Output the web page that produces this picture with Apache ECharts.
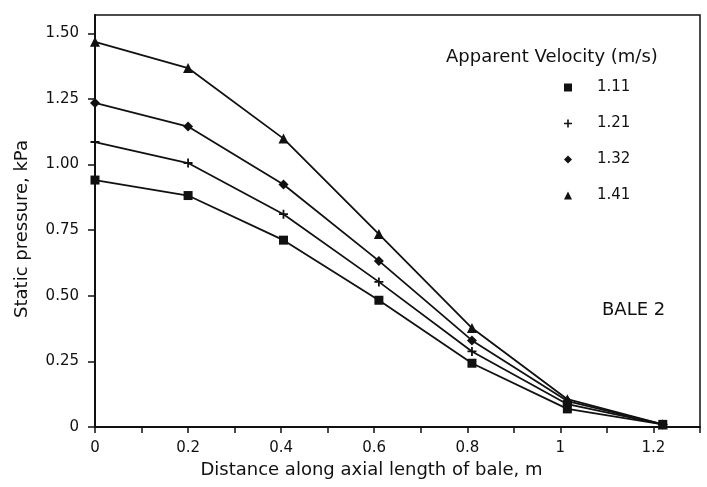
<!DOCTYPE html>
<html>
<head>
<meta charset="utf-8">
<script src="https://cdn.jsdelivr.net/npm/echarts@6/dist/echarts.min.js"></script>
<style>
  html, body { margin: 0; padding: 0; background: #fff; }
  #chart { width: 707px; height: 487px; }
</style>
</head>
<body>
<div id="chart"></div>
<script>
const distance = [0, 0.2, 0.405, 0.61, 0.81, 1.015, 1.22]
const v111 = [0.941, 0.882, 0.712, 0.483, 0.243, 0.069, 0.01]
const v121 = [1.086, 1.006, 0.811, 0.553, 0.288, 0.087, 0.01]
const v132 = [1.235, 1.145, 0.924, 0.633, 0.33, 0.099, 0.01]
const v141 = [1.468, 1.368, 1.099, 0.735, 0.377, 0.106, 0.01]

const xLabelValues = [0, 0.2, 0.4, 0.6, 0.8, 1, 1.2]
const xTickValues = [0, 0.1, 0.2, 0.3, 0.4, 0.5, 0.6, 0.7, 0.8, 0.9, 1, 1.1, 1.2, 1.3]
const yTickValues = [0, 0.25, 0.5, 0.75, 1, 1.25, 1.5]

const PLUS = 'path://M4,0H6V4H10V6H6V10H4V6H0V4H4Z'
const FONT = 'DejaVu Sans'
const INK = '#111'

const SERIES = [
  { name: '1.11', data: v111, symbol: 'rect', size: 9 },
  { name: '1.21', data: v121, symbol: PLUS, size: 9 },
  { name: '1.32', data: v132, symbol: 'diamond', size: 10 },
  { name: '1.41', data: v141, symbol: 'triangle', size: 10 },
]

const chart = echarts.init(document.getElementById('chart'))
chart.setOption({
  animation: false,
  textStyle: { fontFamily: FONT, color: INK },
  title: [
    {
      text: 'Apparent Velocity (m/s)',
      left: 446,
      top: 48,
      padding: 0,
      textStyle: { fontFamily: FONT, fontSize: 18, fontWeight: 'normal', color: INK },
    },
    {
      text: 'BALE 2',
      left: 602,
      top: 301,
      padding: 0,
      textStyle: { fontFamily: FONT, fontSize: 18, fontWeight: 'normal', color: INK },
    },
  ],
  legend: {
    orient: 'vertical',
    left: 564,
    top: 80,
    itemWidth: 8,
    itemHeight: 8,
    itemGap: 21,
    padding: 0,
    data: SERIES.map((s) => ({ name: s.name, icon: s.symbol })),
    itemStyle: { color: INK, borderWidth: 0 },
    lineStyle: { width: 0 },
    textStyle: { fontFamily: FONT, fontSize: 15, color: INK, padding: [0, 0, 0, 20] },
  },
  grid: {
    left: 95,
    right: 7,
    top: 15,
    bottom: 60,
    show: true,
    borderColor: INK,
    borderWidth: 1.5,
  },
  xAxis: {
    type: 'value',
    min: 0,
    max: 1.3,
    interval: 0.1,
    name: 'Distance along axial length of bale, m',
    nameLocation: 'middle',
    nameGap: 32,
    nameTextStyle: { fontFamily: FONT, fontSize: 18, color: INK, padding: [0, 52, 0, 0] },
    axisLine: { lineStyle: { color: INK, width: 2 } },
    axisTick: { length: 6, lineStyle: { color: INK, width: 1.5 }, customValues: xTickValues },
    axisLabel: {
      customValues: xLabelValues,
      margin: 14,
      fontSize: 15,
      color: INK,
      formatter: (v) => String(v),
    },
    splitLine: { show: false },
  },
  yAxis: {
    type: 'value',
    min: 0,
    max: 1.57,
    name: 'Static pressure, kPa',
    nameLocation: 'middle',
    nameGap: 64,
    nameTextStyle: { fontFamily: FONT, fontSize: 18, color: INK, padding: [0, 16, 0, 0] },
    axisLine: { show: true, lineStyle: { color: INK, width: 2 } },
    axisTick: { show: true, length: 7, lineStyle: { color: INK, width: 1.5 }, customValues: yTickValues },
    axisLabel: {
      customValues: yTickValues,
      margin: 16,
      fontSize: 15,
      color: INK,
      padding: [6, 0, 0, 0],
      formatter: (v) => (v === 0 ? '0' : v.toFixed(2)),
    },
    splitLine: { show: false },
  },
  series: SERIES.map((s) => ({
    name: s.name,
    type: 'line',
    data: distance.map((x, i) => [x, s.data[i]]),
    symbol: s.symbol,
    symbolSize: s.size,
    itemStyle: { color: INK },
    lineStyle: { color: INK, width: 1.8 },
  })),
})
</script>
</body>
</html>
